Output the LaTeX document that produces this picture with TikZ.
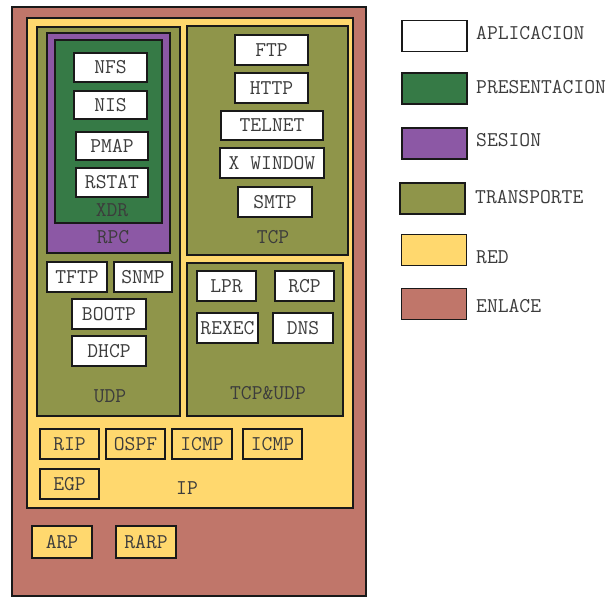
\documentclass[tikz,border=0pt]{standalone}
\usepackage{fontspec}
\usetikzlibrary{backgrounds}

\definecolor{enlace}{HTML}{C0766A}
\definecolor{red}{HTML}{FFD86E}
\definecolor{transp}{HTML}{8F954A}
\definecolor{sesion}{HTML}{8C58A5}
\definecolor{present}{HTML}{367A46}
\definecolor{ink}{HTML}{3C3C3C}

\begin{document}
\begin{tikzpicture}[
  x=1pt, y=-1pt,
  font=\ttfamily\fontsize{21}{23}\selectfont,
  text=ink,
  layer/.style={draw=black!90, line width=1.8pt, inner sep=0pt},
  app/.style={layer, fill=white},
  net/.style={layer, fill=red},
  lbl/.style={inner sep=0pt},
  key/.style={layer, minimum width=65pt, minimum height=31pt},
  keytxt/.style={inner sep=0pt, anchor=west},
]
  \useasboundingbox (0,0) rectangle (613,598);

  % ===================== ENLACE / RED =====================
  \node[layer, fill=enlace, minimum width=354pt, minimum height=589pt] (enl) at (189,301.5) {};
  \node[layer, fill=red, minimum width=326pt, minimum height=490pt] (redbox) at (190,263) {};

  % ===================== UDP =====================
  \node[layer, fill=transp, minimum width=143pt, minimum height=389pt] (udp) at (108.5,221.5) {};
  \node[layer, fill=sesion, minimum width=123pt, minimum height=220pt] (rpc) at (108.5,143) {};
  \node[layer, fill=present, minimum width=107pt, minimum height=183pt] (xdr) at (108.5,131.5) {};

  \node[app, minimum width=73pt, minimum height=29pt] (nfs) at (110.5,67.5) {NFS};
  \node[app, minimum width=73pt, minimum height=28pt] (nis) at (110.5,105) {NIS};
  \node[app, minimum width=72pt, minimum height=28pt] (pmap) at (112,146) {PMAP};
  \node[app, minimum width=72pt, minimum height=29pt] (rstat) at (112,182.5) {RSTAT};
  \node[lbl] (xdrlbl) at (112,210) {XDR};
  \node[lbl] (rpclbl) at (113,237) {RPC};

  \node[app, minimum width=60pt, minimum height=30pt] (tftp) at (77,277) {TFTP};
  \node[app, minimum width=58pt, minimum height=30pt] (snmp) at (143,277) {SNMP};
  \node[app, minimum width=74pt, minimum height=30pt] (bootp) at (109,314) {BOOTP};
  \node[app, minimum width=74pt, minimum height=30pt] (dhcp) at (109,351) {DHCP};
  \node[lbl] (udplbl) at (110,396) {UDP};

  % ===================== TCP =====================
  \node[layer, fill=transp, minimum width=161pt, minimum height=229pt] (tcp) at (267.5,140.5) {};
  \node[app, minimum width=73pt, minimum height=30pt] (ftp) at (271.5,50) {FTP};
  \node[app, minimum width=73pt, minimum height=30pt] (http) at (271.5,88) {HTTP};
  \node[app, minimum width=102pt, minimum height=29pt] (telnet) at (272,125.5) {TELNET};
  \node[app, minimum width=104pt, minimum height=30pt] (xwin) at (272,163) {X WINDOW};
  \node[app, minimum width=74pt, minimum height=30pt] (smtp) at (275,202) {SMTP};
  \node[lbl] (tcplbl) at (273,237) {TCP};

  % ===================== TCP&UDP =====================
  \node[layer, fill=transp, minimum width=156pt, minimum height=153pt] (tcpudp) at (265,339.5) {};
  \node[app, minimum width=59pt, minimum height=30pt] (lpr) at (226.5,286) {LPR};
  \node[app, minimum width=59pt, minimum height=30pt] (rcp) at (304.5,286) {RCP};
  \node[app, minimum width=61pt, minimum height=30pt] (rexec) at (227.5,328) {REXEC};
  \node[app, minimum width=60pt, minimum height=30pt] (dns) at (303,328) {DNS};
  \node[lbl] (tulbl) at (268,393) {TCP\&UDP};

  % ===================== IP =====================
  \node[net, minimum width=59pt, minimum height=30pt] (rip) at (69.5,444) {RIP};
  \node[net, minimum width=59pt, minimum height=30pt] (ospf) at (135.5,444) {OSPF};
  \node[net, minimum width=60pt, minimum height=30pt] (icmpa) at (202,444) {ICMP};
  \node[net, minimum width=59pt, minimum height=30pt] (icmpb) at (272.5,444) {ICMP};
  \node[net, minimum width=59pt, minimum height=30pt] (egp) at (69.5,484) {EGP};
  \node[lbl] (iplbl) at (187,488) {IP};

  \node[net, minimum width=60pt, minimum height=32pt] (arp) at (62,542) {ARP};
  \node[net, minimum width=60pt, minimum height=32pt] (rarp) at (146,542) {RARP};

  % ===================== LEGEND =====================
  \node[key, fill=white] (kapp) at (434.5,36) {};
  \node[key, fill=present] (kpres) at (434.5,88.5) {};
  \node[key, fill=sesion] (kses) at (434.5,143.5) {};
  \node[key, fill=transp] (ktra) at (432.5,198.5) {};
  \node[key, fill=red] (kred) at (434,250) {};
  \node[key, fill=enlace] (kenl) at (434,304) {};

  \node[keytxt] (tapp) at (476,33) {APLICACION};
  \node[keytxt] (tpres) at (476,87) {PRESENTACION};
  \node[keytxt] (tses) at (476,140) {SESION};
  \node[keytxt] (ttra) at (475,197) {TRANSPORTE};
  \node[keytxt] (tred) at (476,257) {RED};
  \node[keytxt] (tenl) at (476,306) {ENLACE};
\end{tikzpicture}
\end{document}
